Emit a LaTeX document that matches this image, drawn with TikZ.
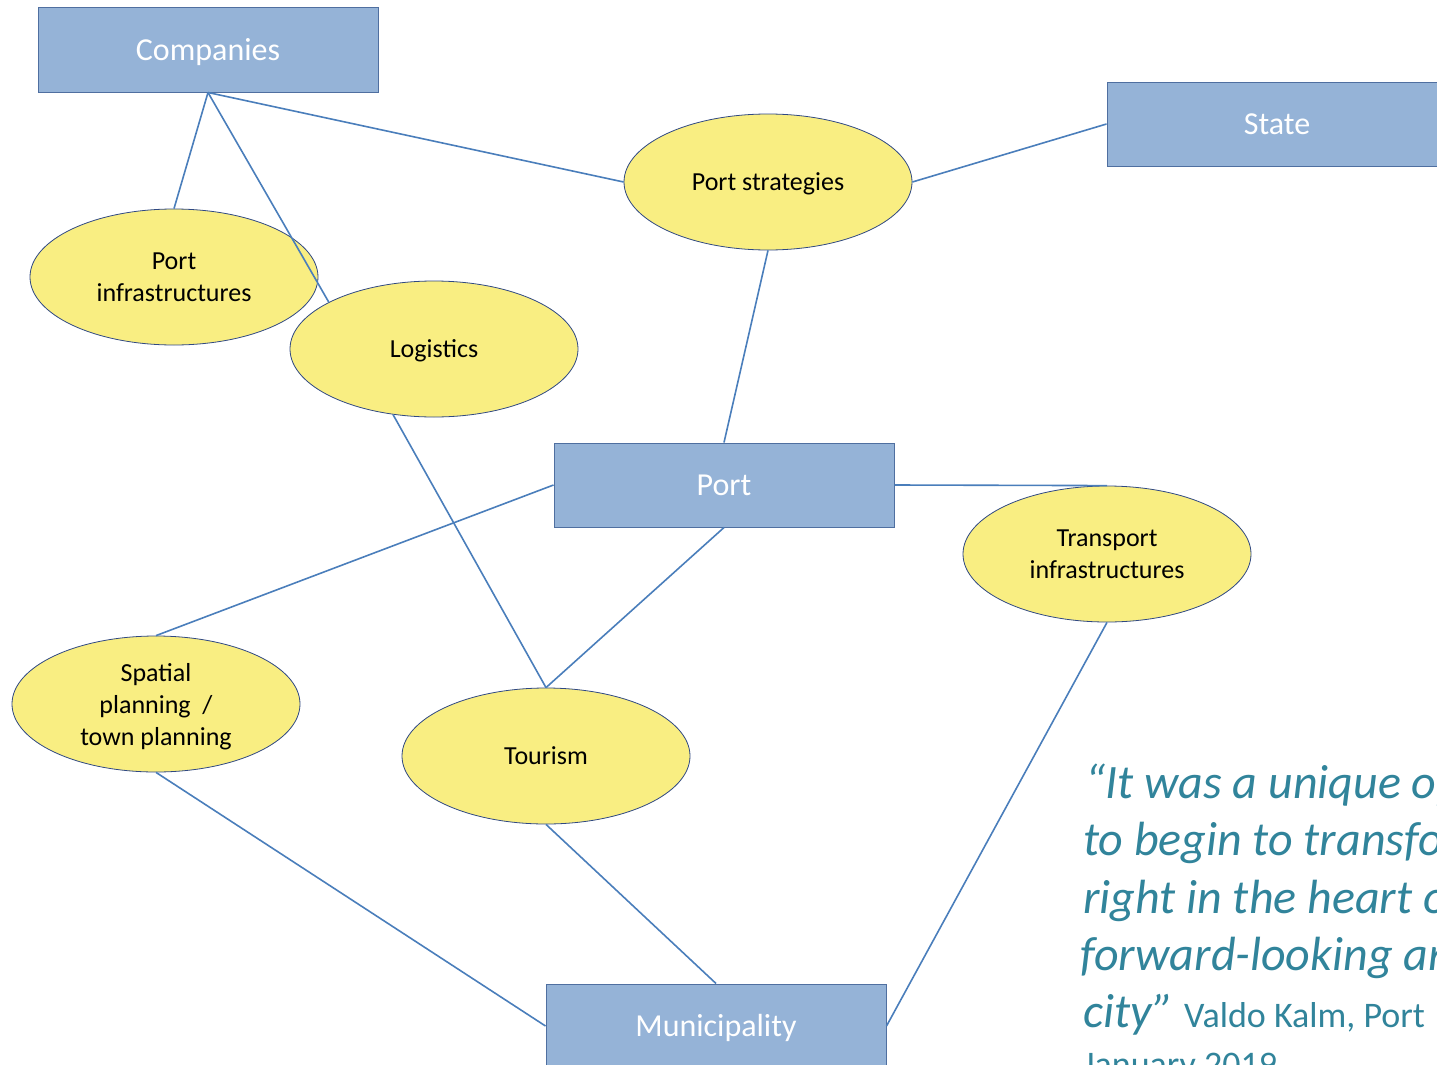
\documentclass[tikz,border=0pt]{standalone}
\usepackage{fontspec}
\setmainfont{Carlito}
\usetikzlibrary{shapes.geometric}
\definecolor{boxfill}{RGB}{149,179,215}
\definecolor{boxline}{RGB}{79,111,160}
\definecolor{ovalfill}{RGB}{249,238,130}
\definecolor{ovalline}{RGB}{47,72,130}
\definecolor{linkblue}{RGB}{74,126,187}
\definecolor{quoteteal}{RGB}{49,132,155}
\tikzset{
    actor/.style={draw=boxline, line width=1pt, fill=boxfill, text=white,
        minimum width=340, minimum height=84, inner sep=0pt,
        text height=20pt, text depth=0pt,
        font=\fontsize{32}{38}\selectfont},
    topic/.style={ellipse, draw=ovalline, line width=0.8pt, fill=ovalfill,
        minimum width=288, minimum height=136, inner sep=0pt, align=center,
        text depth=0pt,
        font=\fontsize{26}{32}\selectfont},
    link/.style={draw=linkblue, line width=1.6pt},
    quoteline/.style={anchor=base west, inner sep=0pt, text=quoteteal,
        font=\fontsize{48}{57}\selectfont\itshape}
}
\begin{document}
\begin{tikzpicture}[x=1pt, y=-1pt]
    \useasboundingbox (0,0) rectangle (1437,1065);
    \clip (0,0) rectangle (1437,1065);

    \node[actor] (comp) at (208,50) {Companies};
    \node[actor] (state) at (1277,124) {State};
    \node[actor] (port) at (724,485) {Port};
    \node[actor] (muni) at (716,1026) {Municipality};

    \node[topic] (strat) at (768,182) {Port strategies};
    \node[topic] (pinf) at (174,277) {Port\\infrastructures};
    \node[topic] (logi) at (434,349) {Logistics};
    \node[topic] (tinf) at (1107,554) {Transport\\infrastructures};
    \node[topic] (spat) at (156,704) {Spatial\\planning~~/\\town planning};
    \node[topic] (tour) at (546,756) {Tourism};

    \draw[link] (comp.south) -- (pinf.north);
    \draw[link] (comp.south) -- (logi.156);
    \draw[link] (comp.south) -- (strat.west);
    \draw[link] (strat.east) -- (state.west);
    \draw[link] (strat.south) -- (port.north);
    \draw[link] (port.west) -- (spat.north);
    \draw[link] (logi.238) -- (tour.north);
    \draw[link] (port.south) -- (tour.north);
    \draw[link] (port.east) -- (tinf.north);
    \draw[link] (tinf.south) -- (muni.east);
    \draw[link] (tour.south) -- (muni.north);
    \draw[link] (spat.south) -- (muni.west);

    \node[quoteline] (q1) at (1085,798) {“It was a unique op};
    \node[quoteline] (q2) at (1083,855) {to begin to transfo};
    \node[quoteline] (q3) at (1083,913) {right in the heart o};
    \node[quoteline] (q4) at (1080,970) {forward-looking an};
    \node[quoteline] (q5) at (1083,1027) {city” {\upshape\fontsize{36}{44}\selectfont Valdo Kalm, Port}};
    \node[quoteline, font=\fontsize{36}{44}\selectfont] (q6) at (1083,1076) {January 2019};
\end{tikzpicture}
\end{document}
